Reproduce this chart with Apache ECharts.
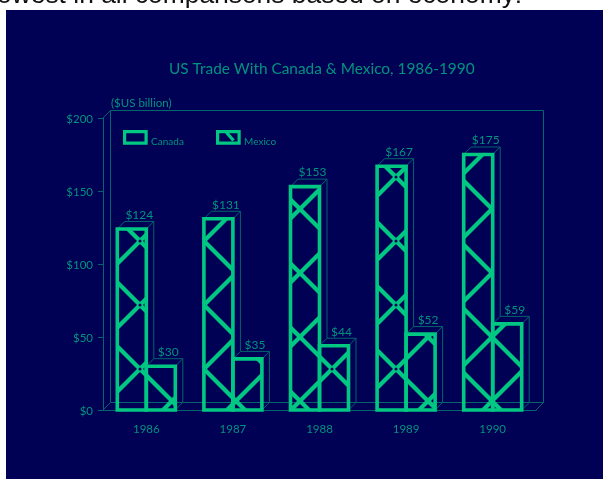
<!DOCTYPE html>
<html><head><meta charset="utf-8">
<style>html,body{margin:0;padding:0;background:#fff;overflow:hidden}#c{width:603px;height:479px}</style>
<script src="https://cdn.jsdelivr.net/npm/echarts@6/dist/echarts.min.js"></script>
</head><body><div id="c"></div>
<script>
const years = ['1986','1987','1988','1989','1990'];
const canada = [124,131,153,167,175];
const mexico = [30,35,44,52,59];
const yTicks = {min:0,max:200,interval:50};
const chartTitle = 'US Trade With Canada & Mexico, 1986-1990';
const unitLabel = '($US billion)';
const captionText = 'owest in all comparisons based on economy:';

const NAVY='#000055', GREEN='#00c883', TEXT='#00937e', THIN='#00656c';
const FONT='Lato, "Noto Sans", sans-serif';
const DEPTH=7.5, BAR=29, STROKE=3.6;

function makeTile(){
  const s=64, c=document.createElement('canvas'); c.width=s; c.height=s;
  const g=c.getContext('2d');
  g.strokeStyle=GREEN; g.lineWidth=4.3;
  for(let k=-2;k<=3;k++){
    g.beginPath(); g.moveTo(-4,37+64*k-4); g.lineTo(68,37+64*k+68); g.stroke();
    g.beginPath(); g.moveTo(-4,61+64*k+4); g.lineTo(68,61+64*k-68); g.stroke();
  }
  g.fillStyle=NAVY; g.beginPath(); g.arc(12,49,1.5,0,Math.PI*2); g.fill();
  return c;
}
const tile=makeTile();

function barRender(side, values){
  return function(params, api){
    const i=api.value(0), v=api.value(1);
    const p=api.coord([i,v]), b=api.coord([i,0]);
    const x0= side<0 ? p[0]-BAR : p[0], x1=x0+BAR, y=p[1], base=b[1];
    const ch=[];
    let sideEnd=base-DEPTH;
    if(side<0){ sideEnd=api.coord([i,mexico[i]])[1]-DEPTH; }
    ch.push({type:'polyline',shape:{points:[[x0,y],[x0+DEPTH,y-DEPTH],[x1+DEPTH,y-DEPTH],[x1,y]]},style:{stroke:THIN,lineWidth:1,fill:null}});
    ch.push({type:'polyline',shape:{points:[[x1+DEPTH,y-DEPTH],[x1+DEPTH,sideEnd]].concat(side>0?[[x1,base]]:[])},style:{stroke:THIN,lineWidth:1,fill:null}});
    ch.push({type:'rect',shape:{x:x0,y:y,width:BAR,height:base-y},style:{fill:{image:tile,repeat:'repeat'},stroke:GREEN,lineWidth:STROKE}});
    ch.push({type:'text',style:{text:'$'+v,x:(x0+x1)/2+DEPTH,y:y-14,fill:TEXT,font:'12px '+FONT,align:'center',verticalAlign:'middle'}});
    return {type:'group',children:ch};
  };
}
function wallRender(params, api){
  const band=api.size([1,0])[0];
  const l=api.coord([0,0])[0]-band/2, r=api.coord([years.length-1,0])[0]+band/2;
  const b=api.coord([0,yTicks.min])[1], t=api.coord([0,yTicks.max])[1], d=DEPTH;
  const st={stroke:THIN,lineWidth:1,fill:null};
  return {type:'group',children:[
    {type:'polyline',shape:{points:[[l,t],[l+d,t-d],[r+d,t-d],[r+d,b-d],[l+d,b-d],[l+d,t-d]]},style:st},
    {type:'line',shape:{x1:l,y1:b,x2:l+d,y2:b-d},style:st},
    {type:'line',shape:{x1:r,y1:b,x2:r+d,y2:b-d},style:st}
  ]};
}
const legendCommon={orient:'horizontal',padding:0,itemWidth:21.5,itemHeight:11.5,itemGap:0,icon:'rect',
  formatter:n=>'{a|'+n+'}',
  textStyle:{color:TEXT,fontFamily:FONT,fontSize:10,rich:{a:{color:TEXT,fontFamily:FONT,fontSize:10,padding:[8,0,0,0]}}},
  itemStyle:{color:NAVY,borderColor:GREEN,borderWidth:3.2}};

const chart=echarts.init(document.getElementById('c'),null,{renderer:'canvas'});
chart.setOption({
  animation:false,
  backgroundColor:'#fff',
  title:{text:chartTitle,left:164,top:57,padding:5,textStyle:{color:TEXT,fontFamily:FONT,fontSize:15.4,fontWeight:'normal'}},
  legend:[
    Object.assign({},legendCommon,{data:['Canada'],left:123,top:130}),
    Object.assign({},legendCommon,{data:['Mexico'],left:216,top:130})
  ],
  grid:{left:103,top:118,width:433,height:292,containLabel:false},
  xAxis:{type:'category',data:years,
    axisLine:{lineStyle:{color:THIN,width:1}},
    axisTick:{alignWithLabel:true,length:5,lineStyle:{color:THIN}},
    axisLabel:{color:TEXT,fontFamily:FONT,fontSize:11.5,margin:13}},
  yAxis:{type:'value',min:yTicks.min,max:yTicks.max,interval:yTicks.interval,
    name:unitLabel,nameLocation:'end',nameGap:9,
    nameTextStyle:{color:TEXT,fontFamily:FONT,fontSize:11.5,align:'left',padding:[0,0,0,8]},
    axisLine:{show:true,lineStyle:{color:THIN,width:1}},
    axisTick:{show:true,length:5,lineStyle:{color:THIN}},
    splitLine:{show:false},
    axisLabel:{color:TEXT,fontFamily:FONT,fontSize:11.5,margin:10,formatter:v=>'{a|$'+v+'}',
      rich:{a:{color:TEXT,fontFamily:FONT,fontSize:11.5,padding:[3,0,0,0]}}}},
  graphic:[
    {type:'rect',z:-10,silent:true,shape:{x:6,y:10,width:597,height:469},style:{fill:NAVY}},
    {type:'text',silent:true,z:-5,style:{text:captionText,x:-3,y:-17,fill:'#111',font:'26.4px "Liberation Sans", Arial, sans-serif'}},
    {type:'line',silent:true,z:20,shape:{x1:226.5,y1:132.5,x2:233.5,y2:140.5},style:{stroke:GREEN,lineWidth:3.4}}
  ],
  series:[
    {type:'custom',name:'walls',silent:true,z:1,data:[[0]],encode:{x:0},renderItem:wallRender},
    {type:'custom',name:'Canada',z:2,itemStyle:{color:GREEN},data:canada.map((v,i)=>[i,v]),encode:{x:0,y:1},renderItem:barRender(-1,canada)},
    {type:'custom',name:'Mexico',z:3,itemStyle:{color:GREEN},data:mexico.map((v,i)=>[i,v]),encode:{x:0,y:1},renderItem:barRender(1,mexico)}
  ]
});
</script></body></html>
